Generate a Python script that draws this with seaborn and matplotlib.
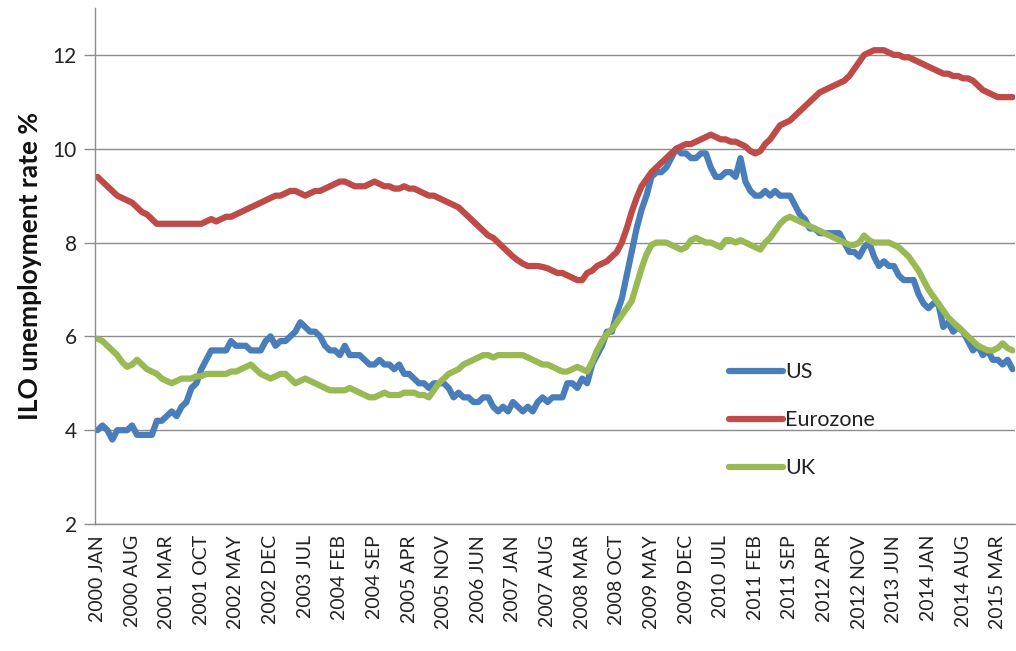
import numpy as np
import pandas as pd
import matplotlib
matplotlib.use("Agg")
import matplotlib.pyplot as plt
import seaborn as sns

# ---------------- data (monthly, 2000 JAN .. 2015 JUN) ----------------
us = [
    4.0, 4.1, 4.0, 3.8, 4.0, 4.0, 4.0, 4.1, 3.9, 3.9, 3.9, 3.9,
    4.2, 4.2, 4.3, 4.4, 4.3, 4.5, 4.6, 4.9, 5.0, 5.3, 5.5, 5.7,
    5.7, 5.7, 5.7, 5.9, 5.8, 5.8, 5.8, 5.7, 5.7, 5.7, 5.9, 6.0,
    5.8, 5.9, 5.9, 6.0, 6.1, 6.3, 6.2, 6.1, 6.1, 6.0, 5.8, 5.7,
    5.7, 5.6, 5.8, 5.6, 5.6, 5.6, 5.5, 5.4, 5.4, 5.5, 5.4, 5.4,
    5.3, 5.4, 5.2, 5.2, 5.1, 5.0, 5.0, 4.9, 5.0, 5.0, 5.0, 4.9,
    4.7, 4.8, 4.7, 4.7, 4.6, 4.6, 4.7, 4.7, 4.5, 4.4, 4.5, 4.4,
    4.6, 4.5, 4.4, 4.5, 4.4, 4.6, 4.7, 4.6, 4.7, 4.7, 4.7, 5.0,
    5.0, 4.9, 5.1, 5.0, 5.4, 5.6, 5.8, 6.1, 6.1, 6.5, 6.8, 7.3,
    7.8, 8.3, 8.7, 9.0, 9.4, 9.5, 9.5, 9.6, 9.8, 10.0, 9.9, 9.9,
    9.8, 9.8, 9.9, 9.9, 9.6, 9.4, 9.4, 9.5, 9.5, 9.4, 9.8, 9.3,
    9.1, 9.0, 9.0, 9.1, 9.0, 9.1, 9.0, 9.0, 9.0, 8.8, 8.6, 8.5,
    8.3, 8.3, 8.2, 8.2, 8.2, 8.2, 8.2, 8.0, 7.8, 7.8, 7.7, 7.9,
    8.0, 7.7, 7.5, 7.6, 7.5, 7.5, 7.3, 7.2, 7.2, 7.2, 6.9, 6.7,
    6.6, 6.7, 6.7, 6.2, 6.3, 6.1, 6.2, 6.1, 5.9, 5.7, 5.8, 5.6,
    5.7, 5.5, 5.5, 5.4, 5.5, 5.3,
]

eurozone = [
    9.4, 9.3, 9.2, 9.1, 9.0, 8.95, 8.9, 8.85, 8.75, 8.65, 8.6, 8.5,
    8.4, 8.4, 8.4, 8.4, 8.4, 8.4, 8.4, 8.4, 8.4, 8.4, 8.45, 8.5,
    8.45, 8.5, 8.55, 8.55, 8.6, 8.65, 8.7, 8.75, 8.8, 8.85, 8.9, 8.95,
    9.0, 9.0, 9.05, 9.1, 9.1, 9.05, 9.0, 9.05, 9.1, 9.1, 9.15, 9.2,
    9.25, 9.3, 9.3, 9.25, 9.2, 9.2, 9.2, 9.25, 9.3, 9.25, 9.2, 9.2,
    9.15, 9.15, 9.2, 9.15, 9.15, 9.1, 9.05, 9.0, 9.0, 8.95, 8.9, 8.85,
    8.8, 8.75, 8.65, 8.55, 8.45, 8.35, 8.25, 8.15, 8.1, 8.0, 7.9, 7.8,
    7.7, 7.62, 7.55, 7.5, 7.5, 7.5, 7.48, 7.45, 7.4, 7.35, 7.35, 7.3,
    7.25, 7.2, 7.2, 7.35, 7.4, 7.5, 7.55, 7.6, 7.7, 7.8, 8.0, 8.3,
    8.65, 8.95, 9.2, 9.35, 9.5, 9.6, 9.7, 9.8, 9.9, 10.0, 10.05, 10.1,
    10.1, 10.15, 10.2, 10.25, 10.3, 10.25, 10.2, 10.2, 10.15, 10.15, 10.1, 10.05,
    9.95, 9.9, 9.95, 10.1, 10.2, 10.35, 10.5, 10.55, 10.6, 10.7, 10.8, 10.9,
    11.0, 11.1, 11.2, 11.25, 11.3, 11.35, 11.4, 11.45, 11.55, 11.7, 11.85, 12.0,
    12.05, 12.1, 12.1, 12.1, 12.05, 12.0, 12.0, 11.95, 11.95, 11.9, 11.85, 11.8,
    11.75, 11.7, 11.65, 11.6, 11.6, 11.55, 11.55, 11.5, 11.5, 11.45, 11.35, 11.25,
    11.2, 11.15, 11.1, 11.1, 11.1, 11.1,
]

uk = [
    5.95, 5.9, 5.8, 5.7, 5.6, 5.45, 5.35, 5.4, 5.5, 5.4, 5.3, 5.25,
    5.2, 5.1, 5.05, 5.0, 5.05, 5.1, 5.1, 5.1, 5.15, 5.15, 5.2, 5.2,
    5.2, 5.2, 5.2, 5.25, 5.25, 5.3, 5.35, 5.4, 5.3, 5.2, 5.15, 5.1,
    5.15, 5.2, 5.2, 5.1, 5.0, 5.05, 5.1, 5.05, 5.0, 4.95, 4.9, 4.85,
    4.85, 4.85, 4.85, 4.9, 4.85, 4.8, 4.75, 4.7, 4.7, 4.75, 4.8, 4.75,
    4.75, 4.75, 4.8, 4.8, 4.8, 4.75, 4.75, 4.7, 4.85, 5.0, 5.1, 5.2,
    5.25, 5.3, 5.4, 5.45, 5.5, 5.55, 5.6, 5.6, 5.55, 5.6, 5.6, 5.6,
    5.6, 5.6, 5.6, 5.55, 5.5, 5.45, 5.4, 5.4, 5.35, 5.3, 5.25, 5.25,
    5.3, 5.35, 5.3, 5.25, 5.45, 5.7, 5.9, 6.05, 6.15, 6.3, 6.45, 6.6,
    6.75, 7.1, 7.45, 7.75, 7.95, 8.0, 8.0, 8.0, 7.95, 7.9, 7.85, 7.9,
    8.05, 8.1, 8.05, 8.0, 8.0, 7.95, 7.9, 8.05, 8.05, 8.0, 8.05, 8.0,
    7.95, 7.9, 7.85, 8.0, 8.1, 8.25, 8.4, 8.5, 8.55, 8.5, 8.45, 8.4,
    8.35, 8.3, 8.25, 8.2, 8.15, 8.1, 8.05, 8.0, 7.95, 7.95, 8.0, 8.15,
    8.05, 8.0, 8.0, 8.0, 8.0, 7.95, 7.9, 7.8, 7.7, 7.55, 7.4, 7.2,
    7.0, 6.85, 6.7, 6.55, 6.4, 6.3, 6.2, 6.1, 6.0, 5.9, 5.8, 5.75,
    5.7, 5.7, 5.75, 5.85, 5.75, 5.7,
]

series_names = ["US", "Eurozone", "UK"]

tick_labels = [
    "2000 JAN", "2000 AUG", "2001 MAR", "2001 OCT", "2002 MAY", "2002 DEC",
    "2003 JUL", "2004 FEB", "2004 SEP", "2005 APR", "2005 NOV", "2006 JUN",
    "2007 JAN", "2007 AUG", "2008 MAR", "2008 OCT", "2009 MAY", "2009 DEC",
    "2010 JUL", "2011 FEB", "2011 SEP", "2012 APR", "2012 NOV", "2013 JUN",
    "2014 JAN", "2014 AUG", "2015 MAR",
]
tick_step = 7

y_ticks = [2, 4, 6, 8, 10, 12]
y_label = "ILO unemployment rate %"

# ---------------- build frame ----------------
n = len(us)
month_idx = np.arange(n)
df = pd.DataFrame({
    "month": np.concatenate([month_idx] * 3),
    "rate": np.concatenate([us, eurozone, uk]),
    "series": np.repeat(series_names, n),
})

# ---------------- style ----------------
sns.set_theme(style="white")
plt.rcParams["font.family"] = ["Lato", "DejaVu Sans"]

palette = {"US": "#4A7EBB", "Eurozone": "#BE4B48", "UK": "#98B954"}

fig = plt.figure(figsize=(10.16, 6.51), dpi=100)
ax = fig.add_axes([95 / 1016, 1 - 524 / 651, 920 / 1016, 516 / 651])

sns.lineplot(data=df, x="month", y="rate", hue="series", hue_order=series_names,
             palette=palette, linewidth=4.5, ax=ax, legend=True,
             solid_capstyle="round", solid_joinstyle="round")

ax.set_xlim(-0.5, n - 0.5)
ax.set_ylim(2, 13)
ax.set_yticks(y_ticks)
ax.set_yticklabels([str(v) for v in y_ticks], fontsize=15, color="#222222")
ax.yaxis.grid(True, color="#8c8c8c", linewidth=1.0)
ax.set_axisbelow(True)

xt = list(range(0, tick_step * len(tick_labels), tick_step))
ax.set_xticks(xt)
ax.set_xticklabels(tick_labels, rotation=90, fontsize=14, color="#222222")
ax.tick_params(axis="x", length=0, pad=8)
ax.tick_params(axis="y", length=8, width=1.0, color="#8c8c8c", pad=5, direction="out", left=True)

ax.set_xlabel("")
ax.set_ylabel(y_label, fontsize=19, fontweight="bold", color="#111111", labelpad=8)

for s in ["top", "right"]:
    ax.spines[s].set_visible(False)
ax.spines["left"].set_color("#8c8c8c")
ax.spines["left"].set_linewidth(1.0)
ax.spines["bottom"].set_color("#8c8c8c")
ax.spines["bottom"].set_linewidth(1.0)

leg = ax.legend(loc="upper left", bbox_to_anchor=(0.68, 0.33), frameon=False,
                fontsize=15.5, handlelength=2.5, handletextpad=0.1,
                labelspacing=1.3, borderaxespad=0)
for line in leg.get_lines():
    line.set_linewidth(4.5)
for t in leg.get_texts():
    t.set_color("#222222")

fig.savefig("out.png", dpi=100)
